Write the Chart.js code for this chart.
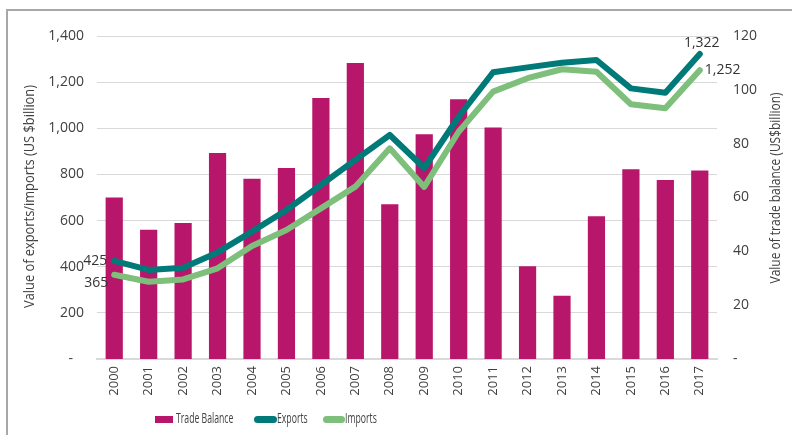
<!DOCTYPE html>
<html><head><meta charset="utf-8">
<script src="https://cdn.jsdelivr.net/npm/chart.js@4.4.1/dist/chart.umd.min.js"></script>
<style>
html,body{margin:0;padding:0;background:#fff;}
#wrap{position:relative;width:792px;height:435px;overflow:hidden;background:#fff;}
#frame{position:absolute;left:6px;top:9px;width:800px;height:440px;border-top:2px solid #a8a8a8;border-left:2px solid #a8a8a8;}
canvas{position:absolute;left:0;top:0;}
</style></head><body>
<div id="wrap"><div id="frame"></div><canvas id="c" width="792" height="435"></canvas></div>
<script>
// ---- data ----
const years = ['2000','2001','2002','2003','2004','2005','2006','2007','2008','2009','2010','2011','2012','2013','2014','2015','2016','2017'];
const tradeBalance = [60, 48, 50.5, 76.5, 67, 71, 97, 110, 57.5, 83.5, 96.5, 86, 34.5, 23.5, 53, 70.5, 66.5, 70];
const exportsVals = [425, 386, 396, 462, 552, 646, 754, 863, 971, 828, 1050, 1243, 1264, 1284, 1296, 1173, 1154, 1322];
const importsVals = [365, 335, 345, 393, 490, 559, 653, 747, 913, 746, 985, 1159, 1217, 1256, 1245, 1104, 1087, 1252];
const leftTickValues = [0, 200, 400, 600, 800, 1000, 1200, 1400];
const rightTickValues = [0, 20, 40, 60, 80, 100, 120];
const seriesNames = ['Trade Balance', 'Exports', 'Imports'];
const leftTitle = 'Value of exports/imports (US $billion)';
const rightTitle = 'Value of trade balance (US$billion)';

// ---- style ----
const FONT = "'Open Sans', sans-serif";
const TXT = '#404040';
const C_BAR = '#b8166b', C_EXP = '#007a78', C_IMP = '#7dbf7b';
const fmt = v => v.toLocaleString('en-US');

function vTitle(ctx, text, cx, cy, size, len) {
  ctx.save();
  ctx.font = size + 'px ' + FONT;
  ctx.fillStyle = TXT;
  ctx.textAlign = 'center';
  ctx.textBaseline = 'middle';
  const w = ctx.measureText(text).width;
  ctx.translate(cx, cy);
  ctx.rotate(-Math.PI / 2);
  ctx.scale(Math.min(1, len / w), 1);
  ctx.fillText(text, 0, 0);
  ctx.restore();
}

const overlay = {
  id: 'overlay',
  afterDatasetsDraw(chart) {
    const ctx = chart.ctx;
    const ex = chart.getDatasetMeta(1).data, im = chart.getDatasetMeta(2).data;
    const last = years.length - 1;
    ctx.save();
    ctx.font = '14px ' + FONT;
    ctx.fillStyle = '#333';
    ctx.textBaseline = 'middle';
    ctx.textAlign = 'right';
    ctx.fillText(fmt(exportsVals[0]), ex[0].x - 7, ex[0].y);
    ctx.fillText(fmt(importsVals[0]), im[0].x - 6, im[0].y + 8);
    ctx.textAlign = 'center';
    ctx.fillText(fmt(exportsVals[last]), ex[last].x + 2, ex[last].y - 11);
    ctx.textAlign = 'left';
    ctx.fillText(fmt(importsVals[last]), im[last].x + 5, im[last].y);
    ctx.restore();
  },
  afterDraw(chart) {
    const ctx = chart.ctx;
    const ca = chart.chartArea;
    vTitle(ctx, leftTitle, 30, (ca.top + ca.bottom) / 2 - 1, 15, 223);
    vTitle(ctx, rightTitle, 776, 188, 14, 191);
    // legend
    const items = [
      {label: seriesNames[0], color: C_BAR, x: 155, w: 18, type: 'rect', tx: 176},
      {label: seriesNames[1], color: C_EXP, x: 254, w: 23, type: 'line', tx: 277},
      {label: seriesNames[2], color: C_IMP, x: 323, w: 22, type: 'line', tx: 345}
    ];
    const yc = 419.5;
    ctx.save();
    items.forEach(it => {
      ctx.fillStyle = it.color;
      if (it.type === 'rect') {
        ctx.fillRect(it.x, yc - 3.5, it.w, 7);
      } else {
        ctx.strokeStyle = it.color;
        ctx.lineWidth = 7;
        ctx.lineCap = 'round';
        ctx.beginPath();
        ctx.moveTo(it.x + 3.5, yc);
        ctx.lineTo(it.x + it.w - 3.5, yc);
        ctx.stroke();
      }
      ctx.save();
      ctx.fillStyle = TXT;
      ctx.font = '14px ' + FONT;
      ctx.textBaseline = 'middle';
      ctx.textAlign = 'left';
      ctx.translate(it.tx, yc);
      ctx.scale(0.62, 1);
      ctx.fillText(it.label, 0, 0);
      ctx.restore();
    });
    ctx.restore();
  }
};

new Chart(document.getElementById('c'), {
  data: {
    labels: years,
    datasets: [
      {type: 'bar', label: seriesNames[0], data: tradeBalance, yAxisID: 'y1', backgroundColor: C_BAR,
       barPercentage: 0.5, categoryPercentage: 1, order: 3},
      {type: 'line', label: seriesNames[1], data: exportsVals, yAxisID: 'y', borderColor: C_EXP, backgroundColor: C_EXP,
       borderWidth: 6, pointRadius: 0, tension: 0, borderJoinStyle: 'round', borderCapStyle: 'round', order: 1},
      {type: 'line', label: seriesNames[2], data: importsVals, yAxisID: 'y', borderColor: C_IMP, backgroundColor: C_IMP,
       borderWidth: 6, pointRadius: 0, tension: 0, borderJoinStyle: 'round', borderCapStyle: 'round', order: 2}
    ]
  },
  options: {
    responsive: false, animation: false, devicePixelRatio: 1,
    layout: {padding: {top: 36, left: 0, right: 0, bottom: 0}},
    plugins: {legend: {display: false}, tooltip: {enabled: false}},
    scales: {
      x: {
        grid: {display: false, drawTicks: false},
        border: {display: true, color: '#d9d9d9', width: 2},
        ticks: {minRotation: 90, maxRotation: 90, padding: 7, color: TXT, font: {family: FONT, size: 13}},
        afterFit(s) { s.height = 76; }
      },
      y: {
        position: 'left', min: 0, max: 1400,
        afterBuildTicks(s) { s.ticks = leftTickValues.map(v => ({value: v})); },
        ticks: {padding: 13, color: TXT, font: {family: FONT, size: 14},
                callback: v => v === 0 ? '-   ' : fmt(v)},
        grid: {color: '#d9d9d9', drawTicks: false, lineWidth: 1},
        border: {display: false},
        afterFit(s) { s.width = 97; }
      },
      y1: {
        position: 'right', min: 0, max: 120,
        afterBuildTicks(s) { s.ticks = rightTickValues.map(v => ({value: v})); },
        ticks: {padding: 16, color: TXT, font: {family: FONT, size: 14},
                callback: v => v === 0 ? '-' : fmt(v)},
        grid: {display: false, drawTicks: false},
        border: {display: false},
        afterFit(s) { s.width = 75; }
      }
    }
  },
  plugins: [overlay]
});
</script>
</body></html>
